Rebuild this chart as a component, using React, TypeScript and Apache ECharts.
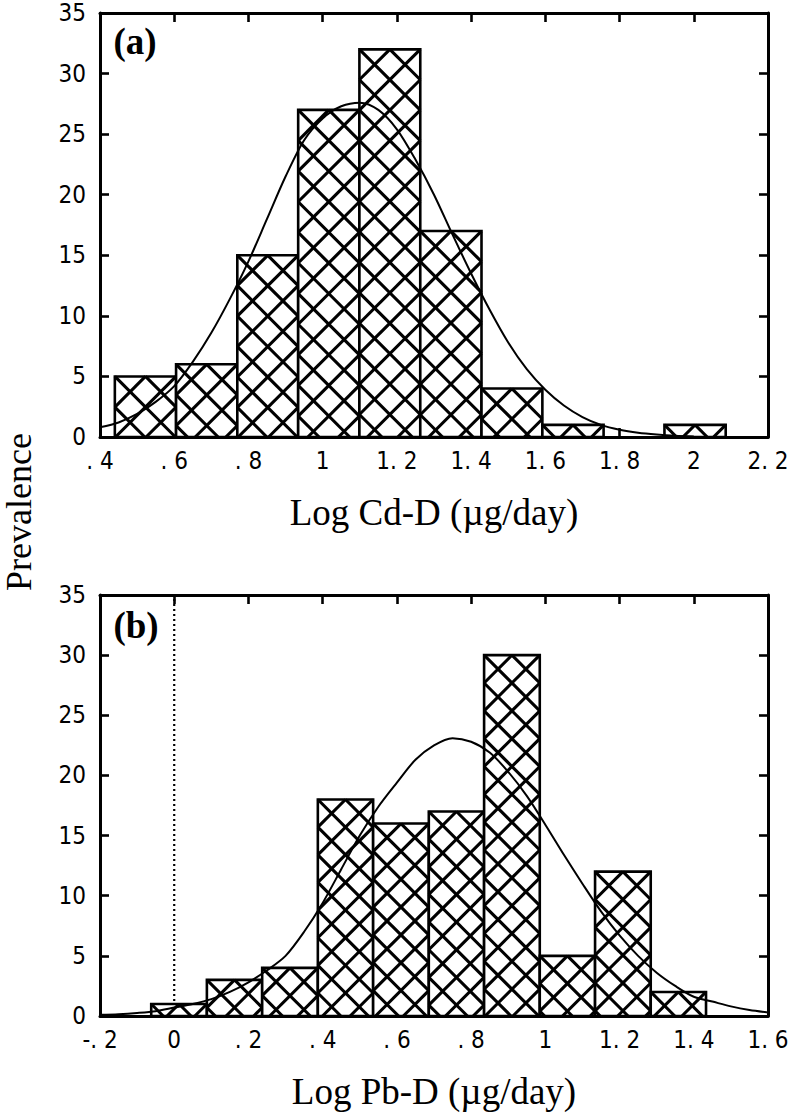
import React, { useEffect, useRef } from "react";
import * as echarts from "echarts";

// ---- Data: panel (a) Log Cd-D ----
const cdEdges = [0.44, 0.605, 0.77, 0.934, 1.099, 1.263, 1.428, 1.592, 1.757, 1.921, 2.086];
const cdCounts = [5, 6, 15, 27, 32, 17, 4, 1, 0, 1];
const cdCurveX = [0.4, 0.45, 0.5, 0.55, 0.6, 0.65, 0.7, 0.75, 0.8, 0.85, 0.9, 0.95, 1.0, 1.05, 1.1, 1.15, 1.2, 1.25, 1.3, 1.35, 1.4, 1.45, 1.5, 1.55, 1.6, 1.65, 1.7, 1.75, 1.8, 1.85, 1.9, 1.95, 2.0];
const cdCurveY = [0.8, 1.2, 1.9, 2.9, 4.2, 6.2, 8.6, 11.4, 14.5, 18.0, 21.5, 24.5, 26.3, 27.3, 27.6, 27.0, 25.4, 22.9, 20.0, 16.7, 13.5, 10.5, 7.8, 5.6, 3.9, 2.6, 1.65, 1.0, 0.6, 0.35, 0.2, 0.1, 0.05];
const cdTicks = [0.4, 0.6, 0.8, 1.0, 1.2, 1.4, 1.6, 1.8, 2.0, 2.2];
const cdTickLabels = [". 4", ". 6", ". 8", "1", "1. 2", "1. 4", "1. 6", "1. 8", "2", "2. 2"];

// ---- Data: panel (b) Log Pb-D ----
const pbEdges = [-0.062, 0.088, 0.237, 0.387, 0.536, 0.686, 0.835, 0.985, 1.134, 1.284, 1.433];
const pbCounts = [1, 3, 4, 18, 16, 17, 30, 5, 12, 2];
const pbCurveX = [-0.2, -0.15, -0.1, -0.05, 0.0, 0.05, 0.1, 0.15, 0.2, 0.25, 0.3, 0.35, 0.4, 0.45, 0.5, 0.55, 0.6, 0.65, 0.7, 0.75, 0.8, 0.85, 0.9, 0.95, 1.0, 1.05, 1.1, 1.15, 1.2, 1.25, 1.3, 1.35, 1.4, 1.45, 1.5, 1.55, 1.6];
const pbCurveY = [0.1, 0.15, 0.25, 0.4, 0.7, 1.0, 1.4, 2.0, 2.8, 3.8, 5.0, 7.0, 9.4, 12.2, 15.0, 17.4, 19.4, 21.3, 22.5, 23.1, 22.8, 21.9, 20.3, 18.3, 15.9, 13.4, 11.0, 8.7, 6.7, 5.0, 3.6, 2.5, 1.6, 1.2, 0.8, 0.5, 0.3];
const pbTicks = [-0.2, 0.0, 0.2, 0.4, 0.6, 0.8, 1.0, 1.2, 1.4, 1.6];
const pbTickLabels = ["-. 2", "0", ". 2", ". 4", ". 6", ". 8", "1", "1. 2", "1. 4", "1. 6"];
const zeroLine = [[0, 0], [0, 35]];

const yMin = 0;
const yMax = 35;
const yStep = 5;

const TICK_FONT = "'Liberation Sans Narrow', 'DejaVu Sans Condensed', 'Roboto Condensed', 'Liberation Sans', sans-serif";
const SERIF = "'Liberation Serif', 'Times New Roman', 'DejaVu Serif', serif";

function histData(edges: number[], counts: number[]) {
  const out: number[][] = [];
  counts.forEach((c, i) => {
    if (c > 0) out.push([edges[i], edges[i + 1], c]);
  });
  return out;
}

function renderHist(params: any, api: any) {
  const x0 = api.value(0);
  const x1 = api.value(1);
  const c = api.value(2);
  const p0 = api.coord([x0, c]);
  const p1 = api.coord([x1, 0]);
  const L = p0[0], T = p0[1], R = p1[0], B = p1[1];
  const W = (R - L) / 2;
  const children: any[] = [];
  children.push({
    type: "rect",
    shape: { x: L, y: T, width: R - L, height: B - T },
    style: { fill: "#fff", stroke: "none" },
  });
  const lw = 3.1;
  const kMax = Math.ceil((B - T + R - L) / W) + 3;
  // "\" lines: y = x + c
  for (let k = -4; k <= kMax; k++) {
    const cc = T - L + k * W;
    const lo = Math.max(L, T - cc);
    const hi = Math.min(R, B - cc);
    if (hi - lo > 0.5) {
      children.push({
        type: "line",
        shape: { x1: lo, y1: lo + cc, x2: hi, y2: hi + cc },
        style: { stroke: "#000", lineWidth: lw },
      });
    }
  }
  // "/" lines: y = -x + c
  for (let k = -4; k <= kMax; k++) {
    const cc = T + L + k * W;
    const lo = Math.max(L, cc - B);
    const hi = Math.min(R, cc - T);
    if (hi - lo > 0.5) {
      children.push({
        type: "line",
        shape: { x1: lo, y1: cc - lo, x2: hi, y2: cc - hi },
        style: { stroke: "#000", lineWidth: lw },
      });
    }
  }
  children.push({
    type: "rect",
    shape: { x: L, y: T, width: R - L, height: B - T },
    style: { fill: "none", stroke: "#000", lineWidth: 2.6 },
  });
  return { type: "group", children };
}

function labelFmt(ticks: number[], labels: string[]) {
  return (v: number) => {
    for (let i = 0; i < ticks.length; i++) {
      if (Math.abs(ticks[i] - v) < 1e-6) return labels[i];
    }
    return "";
  };
}

const axisLineStyle = { color: "#000", width: 3 };
const tickStyle = { show: true, inside: true, length: 9, lineStyle: { color: "#000", width: 2.6 } };

function xAxes(gridIndex: number, min: number, max: number, ticks: number[], labels: string[], name: string) {
  return [
    {
      type: "value",
      gridIndex,
      position: "bottom",
      min,
      max,
      interval: 0.2,
      splitLine: { show: false },
      axisLine: { show: true, onZero: false, lineStyle: axisLineStyle },
      axisTick: tickStyle,
      axisLabel: {
        show: true,
        margin: 12,
        color: "#000",
        fontFamily: TICK_FONT,
        fontSize: 24,
        formatter: labelFmt(ticks, labels),
      },
      name,
      nameLocation: "middle",
      nameGap: 57,
      nameTextStyle: { color: "#000", fontFamily: SERIF, fontSize: 37 },
    },
    {
      type: "value",
      gridIndex,
      position: "top",
      min,
      max,
      interval: 0.2,
      splitLine: { show: false },
      axisLine: { show: true, onZero: false, lineStyle: axisLineStyle },
      axisTick: tickStyle,
      axisLabel: { show: false },
    },
  ];
}

function yAxes(gridIndex: number) {
  return [
    {
      type: "value",
      gridIndex,
      position: "left",
      min: yMin,
      max: yMax,
      interval: yStep,
      splitLine: { show: false },
      axisLine: { show: true, onZero: false, lineStyle: axisLineStyle },
      axisTick: tickStyle,
      axisLabel: { show: true, margin: 14, color: "#000", fontFamily: TICK_FONT, fontSize: 24 },
    },
    {
      type: "value",
      gridIndex,
      position: "right",
      min: yMin,
      max: yMax,
      interval: yStep,
      splitLine: { show: false },
      axisLine: { show: true, onZero: false, lineStyle: axisLineStyle },
      axisTick: tickStyle,
      axisLabel: { show: false },
    },
  ];
}

export default function App() {
  const ref = useRef<HTMLDivElement>(null);
  useEffect(() => {
    if (!ref.current) return;
    const chart = echarts.init(ref.current, null, { renderer: "svg" });
    const option: any = {
      animation: false,
      backgroundColor: "#fff",
      grid: [
        { left: 100, top: 13, width: 668, height: 424 },
        { left: 100, top: 595, width: 668, height: 421 },
      ],
      xAxis: [
        ...xAxes(0, 0.4, 2.2, cdTicks, cdTickLabels, "Log Cd-D (\u00b5g/day)"),
        ...xAxes(1, -0.2, 1.6, pbTicks, pbTickLabels, "Log Pb-D (\u00b5g/day)"),
      ],
      yAxis: [...yAxes(0), ...yAxes(1)],
      series: [
        {
          type: "custom",
          name: "Cd histogram",
          xAxisIndex: 0,
          yAxisIndex: 0,
          renderItem: renderHist,
          encode: { x: [0, 1], y: 2 },
          data: histData(cdEdges, cdCounts),
          z: 2,
        },
        {
          type: "line",
          name: "Cd fit",
          xAxisIndex: 0,
          yAxisIndex: 0,
          data: cdCurveX.map((x, i) => [x, cdCurveY[i]]),
          smooth: 0.3,
          showSymbol: false,
          symbol: "none",
          lineStyle: { color: "#000", width: 2 },
          z: 3,
        },
        {
          type: "line",
          name: "zero",
          xAxisIndex: 2,
          yAxisIndex: 2,
          data: zeroLine,
          symbol: "none",
          lineStyle: { color: "#000", width: 2.2, type: [2, 3] },
          z: 1,
        },
        {
          type: "custom",
          name: "Pb histogram",
          xAxisIndex: 2,
          yAxisIndex: 2,
          renderItem: renderHist,
          encode: { x: [0, 1], y: 2 },
          data: histData(pbEdges, pbCounts),
          z: 2,
        },
        {
          type: "line",
          name: "Pb fit",
          xAxisIndex: 2,
          yAxisIndex: 2,
          data: pbCurveX.map((x, i) => [x, pbCurveY[i]]),
          smooth: 0.3,
          showSymbol: false,
          symbol: "none",
          lineStyle: { color: "#000", width: 2 },
          z: 3,
        },
      ],
      graphic: [
        {
          type: "text",
          x: 19,
          y: 512,
          rotation: Math.PI / 2,
          style: {
            text: "Prevalence",
            fill: "#000",
            font: `36px ${SERIF}`,
            textAlign: "center",
            textVerticalAlign: "middle",
          },
        },
        {
          type: "text",
          x: 135,
          y: 41,
          style: {
            text: "(a)",
            fill: "#000",
            font: `bold 37px ${SERIF}`,
            textAlign: "center",
            textVerticalAlign: "middle",
          },
        },
        {
          type: "text",
          x: 136,
          y: 625,
          style: {
            text: "(b)",
            fill: "#000",
            font: `bold 37px ${SERIF}`,
            textAlign: "center",
            textVerticalAlign: "middle",
          },
        },
      ],
    };
    chart.setOption(option);
    return () => chart.dispose();
  }, []);
  return (
    <div
      ref={ref}
      style={{ position: "absolute", left: 0, top: 0, width: 792, height: 1116, background: "#fff" }}
    />
  );
}
